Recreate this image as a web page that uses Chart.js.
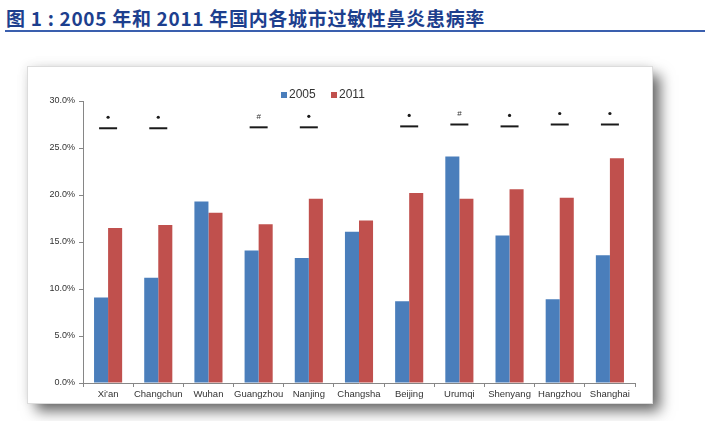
<!DOCTYPE html>
<html>
<head>
<meta charset="utf-8">
<script src="https://cdn.jsdelivr.net/npm/chart.js@4/dist/chart.umd.min.js"></script>
<style>
    body { margin: 0; background: #fff; width: 705px; height: 421px; overflow: hidden; position: relative; }
    #titulo {
        position: absolute; left: 6px; top: 4px;
        font-family: "Noto Sans CJK SC", sans-serif; font-weight: bold; font-size: 19px;
        color: #1d3f8e; white-space: nowrap; letter-spacing: 0.7px;
    }
    #linha { position: absolute; left: 5px; right: 0; top: 30px; height: 2px; background: #3a5fae; }
    #caixa {
        position: absolute; left: 28px; top: 67px; width: 624px; height: 336px;
        background: #fff; outline: 1px solid #dcdcdc;
        box-shadow: 8px 8px 13px rgba(0, 0, 0, 0.6), -2px -2px 10px rgba(0, 0, 0, 0.08);
    }
    #grafico { position: absolute; left: 0; top: 0; }
</style>
</head>
<body>
<div id="titulo">图 1 : 2005 年和 2011 年国内各城市过敏性鼻炎患病率</div>
<div id="linha"></div>
<div id="caixa"><canvas id="grafico" width="624" height="336"></canvas></div>

<script>
// cidades e taxas (%)
const cidades = ["Xi'an", "Changchun", "Wuhan", "Guangzhou", "Nanjing", "Changsha", "Beijing", "Urumqi", "Shenyang", "Hangzhou", "Shanghai"];
const taxa2005 = [9.1, 11.2, 19.3, 14.1, 13.3, 16.1, 8.7, 24.1, 15.7, 8.9, 13.6];
const taxa2011 = [16.5, 16.8, 18.1, 16.9, 19.6, 17.3, 20.2, 19.6, 20.6, 19.7, 23.9];
// marcas de significancia acima de cada par
const marcas = ["*", "*", null, "#", "*", null, "*", "#", "*", "*", "*"];
const alturaMarca = [27.1, 27.1, null, 27.2, 27.2, null, 27.3, 27.5, 27.3, 27.5, 27.5];
const ticksY = [0, 5, 10, 15, 20, 25, 30];

const pluginMarcas = {
    id: 'marcas',
    afterDatasetsDraw(chart) {
        const ctx = chart.ctx;
        const x = chart.scales.x;
        const y = chart.scales.y;
        ctx.save();
        marcas.forEach((m, i) => {
            if (!m) return;
            const px = x.getPixelForValue(i);
            const py = y.getPixelForValue(alturaMarca[i]);
            ctx.strokeStyle = '#1a1a1a';
            ctx.lineWidth = 2;
            ctx.beginPath();
            ctx.moveTo(px - 9, py);
            ctx.lineTo(px + 9, py);
            ctx.stroke();
            if (m == '*') {
                ctx.fillStyle = '#1a1a1a';
                ctx.beginPath();
                ctx.arc(px, py - 11, 1.6, 0, Math.PI * 2);
                ctx.fill();
            } else {
                ctx.fillStyle = '#333';
                ctx.font = '8px "Liberation Sans"';
                ctx.textAlign = 'center';
                ctx.textBaseline = 'middle';
                ctx.fillText(m, px, py - 11);
            }
        });
        ctx.restore();
    }
};

const pluginLegenda = {
    id: 'legendaManual',
    afterDraw(chart) {
        const ctx = chart.ctx;
        const area = chart.chartArea;
        let lx = area.left + 198;
        const ly = area.top - 6;
        ctx.save();
        ctx.font = '12px "Liberation Sans"';
        ctx.textBaseline = 'middle';
        ctx.textAlign = 'left';
        chart.data.datasets.forEach((ds) => {
            ctx.fillStyle = ds.backgroundColor;
            ctx.fillRect(lx, ly - 3, 6, 6);
            ctx.fillStyle = '#333';
            ctx.fillText(ds.label, lx + 8, ly);
            lx += 50;
        });
        ctx.restore();
    }
};

const grafico = document.getElementById("grafico");

new Chart(grafico, {
    type: 'bar',
    data: {
        labels: cidades,
        datasets: [
            {
                label: '2005',
                data: taxa2005,
                backgroundColor: "#4a7ebb",
                borderWidth: 0
            },
            {
                label: '2011',
                data: taxa2011,
                backgroundColor: "#c0504d",
                borderWidth: 0
            }
        ]
    },
    options: {
        responsive: false,
        animation: false,
        categoryPercentage: 0.56,
        barPercentage: 1,
        layout: {
            padding: { top: 34, right: 17, bottom: 0, left: 0 }
        },
        plugins: {
            legend: { display: false },
            tooltip: { enabled: false }
        },
        scales: {
            y: {
                min: 0,
                max: 30,
                afterFit(scale) { scale.width = 55 },
                afterBuildTicks(scale) { scale.ticks = ticksY.map(v => ({ value: v })) },
                border: { color: '#868686', width: 1 },
                grid: { drawOnChartArea: false, tickLength: 4, color: '#868686' },
                ticks: {
                    padding: 4,
                    color: '#333',
                    font: { family: 'Liberation Sans', size: 9 },
                    callback: (v) => v.toFixed(1) + '%'
                }
            },
            x: {
                afterFit(scale) { scale.height = 20 },
                border: { color: '#868686', width: 1 },
                grid: { drawOnChartArea: false, tickLength: 4, color: '#868686', offset: true },
                ticks: {
                    padding: 2,
                    color: '#333',
                    maxRotation: 0,
                    autoSkip: false,
                    font: { family: 'Liberation Sans', size: 9.5 }
                }
            }
        }
    },
    plugins: [pluginMarcas, pluginLegenda]
});
</script>
</body>
</html>
